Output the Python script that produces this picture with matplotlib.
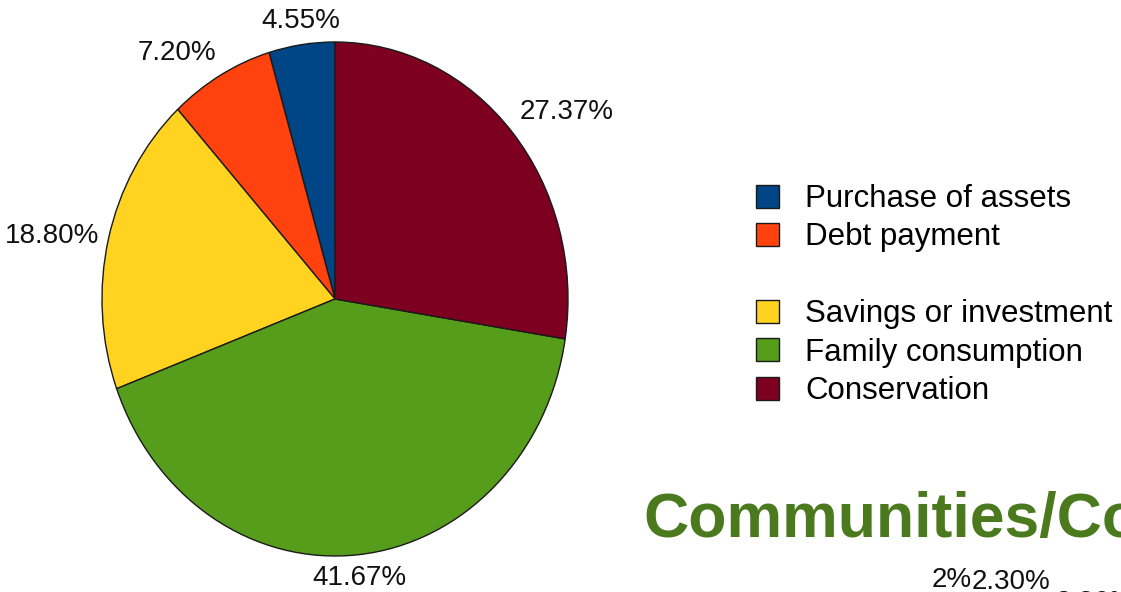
import numpy as np
import matplotlib.pyplot as plt
from matplotlib.patches import Patch

plt.rcParams['font.family'] = ['Liberation Sans', 'DejaVu Sans']

W, H = 1121, 592

# Data
categories = ["Purchase of assets", "Debt payment", "Savings or investment",
              "Family consumption", "Conservation"]
values = [4.55, 7.20, 18.80, 41.67, 27.37]
colors = ["#004586", "#ff420e", "#ffd320", "#579d1c", "#7e0021"]
pct_labels = [f"{v:.2f}%" for v in values]

# labels of the next (cut off) chart on the slide
next_title = "Communities/Co"
next_labels = ["2%", "2.30%", "3.86%"]

fig = plt.figure(figsize=(W / 100, H / 100), dpi=100)

# pie axes spans the (slightly squeezed) ellipse of the pie
left, top, right, bottom = 102, 42, 568, 556
ax = fig.add_axes([left / W, 1 - bottom / H, (right - left) / W, (bottom - top) / H])
wedges, texts = ax.pie(values, colors=colors, startangle=90, counterclock=True,
                       labels=pct_labels, labeldistance=1.04,
                       wedgeprops=dict(edgecolor="#1a1a1a", linewidth=1.0),
                       textprops=dict(fontsize=20, color="#111111"))
ax.set_aspect('auto')
ax.set_xlim(-1, 1)
ax.set_ylim(-1, 1)
ax.axis('off')

# alignment like the original: labels sit just outside the rim
for w, t in zip(wedges, texts):
    ang = np.deg2rad((w.theta1 + w.theta2) / 2)
    c, s = np.cos(ang), np.sin(ang)
    if abs(c) < 0.3:
        t.set_ha('center')
    elif c > 0:
        t.set_ha('left')
    else:
        t.set_ha('right')
    if s > 0.5:
        t.set_va('bottom')
    elif s < -0.5:
        t.set_va('top')
    else:
        t.set_va('center')

# legend with a blank row between the 2nd and 3rd entry
handles = list(wedges[:2]) + [Patch(color='none', label=' ')] + list(wedges[2:])
names = categories[:2] + [' '] + categories[2:]
fig.legend(handles, names, loc='upper left',
           bbox_to_anchor=(756 / W, 1 - 184 / H),
           frameon=False, fontsize=22.5, borderpad=0, borderaxespad=0,
           handlelength=0.72, handleheight=0.75, handletextpad=0.85,
           labelspacing=0.27)

# cut-off text of the next slide part
fig.text(643 / W, 1 - 537 / H, next_title, fontsize=45, fontweight='bold',
         color="#4b7a1e", ha='left', va='baseline')
fig.text(932 / W, 1 - 587 / H, next_labels[0], fontsize=20, color="#111111",
         ha='left', va='baseline')
fig.text(972 / W, 1 - 589 / H, next_labels[1], fontsize=20, color="#111111",
         ha='left', va='baseline')
fig.text(1056 / W, 1 - 610 / H, next_labels[2], fontsize=20, color="#111111",
         ha='left', va='baseline')

fig.savefig("out.png", dpi=100, facecolor="white")
